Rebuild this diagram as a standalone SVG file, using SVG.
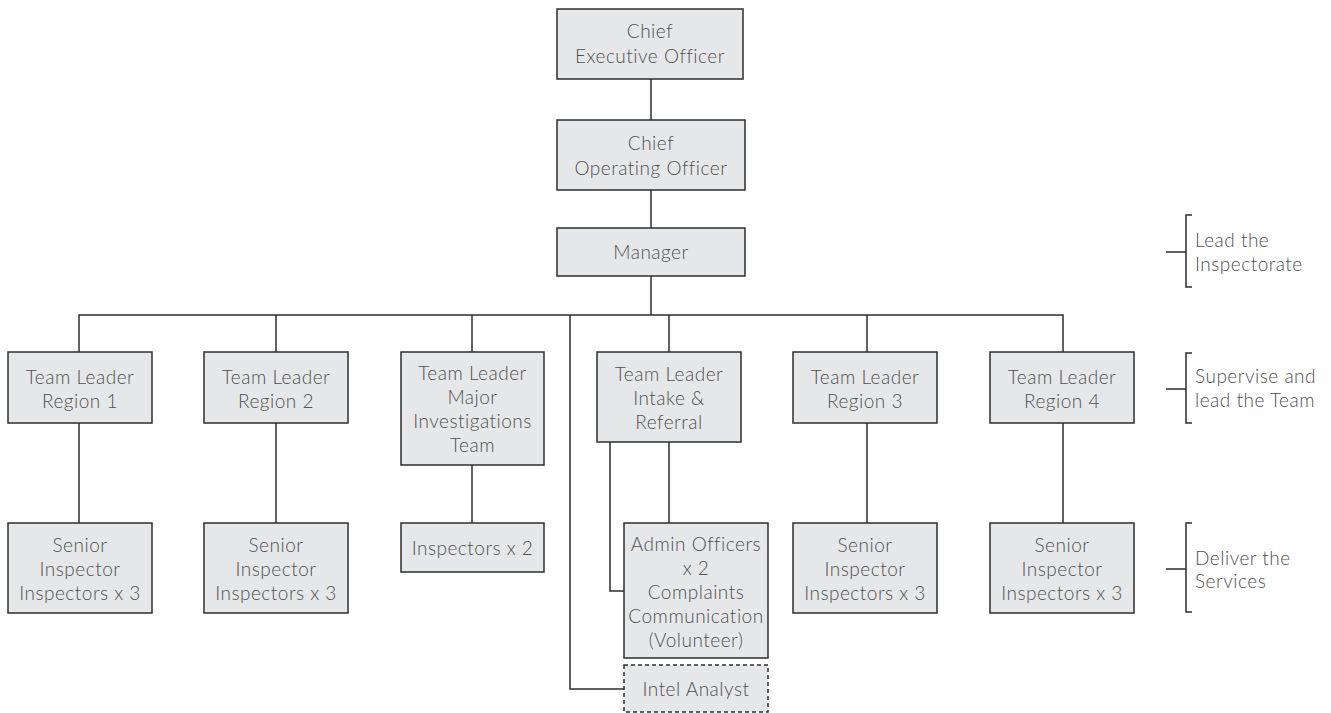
<svg xmlns="http://www.w3.org/2000/svg" width="1331" height="713" viewBox="0 0 1331 713">
<style>
.box{fill:#e6e7e8;stroke:#2e2e2e;stroke-width:1.5}
.dash{fill:#e6e7e8;stroke:#2e2e2e;stroke-width:1.5;stroke-dasharray:4 3}
.t{font-family:Lato,"Liberation Sans",sans-serif;font-weight:300;font-size:19px;letter-spacing:0.5px;fill:#505050;text-anchor:middle}
.r{font-family:Lato,"Liberation Sans",sans-serif;font-weight:300;font-size:19px;letter-spacing:0.5px;fill:#505050}
.ln{fill:none;stroke:#2e2e2e;stroke-width:1.5}
</style>
<rect width="1331" height="713" fill="#fff"/>
<g id="connectors" class="ln">
<path d="M651 79V120M651 190V228M651 276V315"/>
<path d="M79 352V315H1063V352"/>
<path d="M276 315V352M472 315V352M669 315V352M867 315V352"/>
<path d="M570 315V689H624"/>
<path d="M79 423V523M276 423V523M472 465V523M867 423V523M1063 423V523"/>
<path d="M669 442V523M610 442V591H624"/>
</g>
<g id="ceo"><rect class="box" x="557" y="9" width="186" height="70"/><text class="t" x="650" y="38">Chief</text><text class="t" x="650" y="63">Executive Officer</text></g>
<g id="coo"><rect class="box" x="557" y="120" width="188" height="70"/><text class="t" x="651" y="150">Chief</text><text class="t" x="651" y="175">Operating Officer</text></g>
<g id="manager"><rect class="box" x="557" y="228" width="188" height="48"/><text class="t" x="651" y="259">Manager</text></g>
<g id="tl1"><rect class="box" x="8" y="352" width="144" height="71"/><text class="t" x="80" y="384">Team Leader</text><text class="t" x="80" y="408">Region 1</text></g>
<g id="tl2"><rect class="box" x="204" y="352" width="144" height="71"/><text class="t" x="276" y="384">Team Leader</text><text class="t" x="276" y="408">Region 2</text></g>
<g id="tlmajor"><rect class="box" x="401" y="352" width="143" height="113"/><text class="t" x="472.5" y="380">Team Leader</text><text class="t" x="472.5" y="404">Major</text><text class="t" x="472.5" y="428">Investigations</text><text class="t" x="472.5" y="452">Team</text></g>
<g id="tlintake"><rect class="box" x="597" y="352" width="144" height="90"/><text class="t" x="669" y="381">Team Leader</text><text class="t" x="669" y="405">Intake &amp;</text><text class="t" x="669" y="429">Referral</text></g>
<g id="tl3"><rect class="box" x="793" y="352" width="144" height="71"/><text class="t" x="865" y="384">Team Leader</text><text class="t" x="865" y="408">Region 3</text></g>
<g id="tl4"><rect class="box" x="990" y="352" width="144" height="71"/><text class="t" x="1062" y="384">Team Leader</text><text class="t" x="1062" y="408">Region 4</text></g>
<g id="si1"><rect class="box" x="8" y="523" width="144" height="90"/><text class="t" x="80" y="552">Senior</text><text class="t" x="80" y="576">Inspector</text><text class="t" x="80" y="600">Inspectors x 3</text></g>
<g id="si2"><rect class="box" x="204" y="523" width="144" height="90"/><text class="t" x="276" y="552">Senior</text><text class="t" x="276" y="576">Inspector</text><text class="t" x="276" y="600">Inspectors x 3</text></g>
<g id="insp2"><rect class="box" x="401" y="523" width="143" height="49"/><text class="t" x="472.5" y="555">Inspectors x 2</text></g>
<g id="admin"><rect class="box" x="624" y="523" width="144" height="135"/><text class="t" x="696" y="551">Admin Officers</text><text class="t" x="696" y="575">x 2</text><text class="t" x="696" y="599">Complaints</text><text class="t" x="696" y="623">Communication</text><text class="t" x="696" y="647">(Volunteer)</text></g>
<g id="intel"><rect class="dash" x="624" y="665" width="144" height="47"/><text class="t" x="696" y="696">Intel Analyst</text></g>
<g id="si3"><rect class="box" x="793" y="523" width="144" height="90"/><text class="t" x="865" y="552">Senior</text><text class="t" x="865" y="576">Inspector</text><text class="t" x="865" y="600">Inspectors x 3</text></g>
<g id="si4"><rect class="box" x="990" y="523" width="144" height="90"/><text class="t" x="1062" y="552">Senior</text><text class="t" x="1062" y="576">Inspector</text><text class="t" x="1062" y="600">Inspectors x 3</text></g>
<g id="label-lead"><path class="ln" d="M1192 215H1186V287H1192M1166 252H1186"/><text class="r" x="1195" y="247">Lead the</text><text class="r" x="1195" y="271">Inspectorate</text></g>
<g id="label-supervise"><path class="ln" d="M1192 353H1186V423H1192M1166 389H1186"/><text class="r" x="1195" y="383">Supervise and</text><text class="r" x="1195" y="407">lead the Team</text></g>
<g id="label-deliver"><path class="ln" d="M1192 523H1186V612H1192M1166 569H1186"/><text class="r" x="1195" y="565">Deliver the</text><text class="r" x="1195" y="588">Services</text></g>
</svg>
